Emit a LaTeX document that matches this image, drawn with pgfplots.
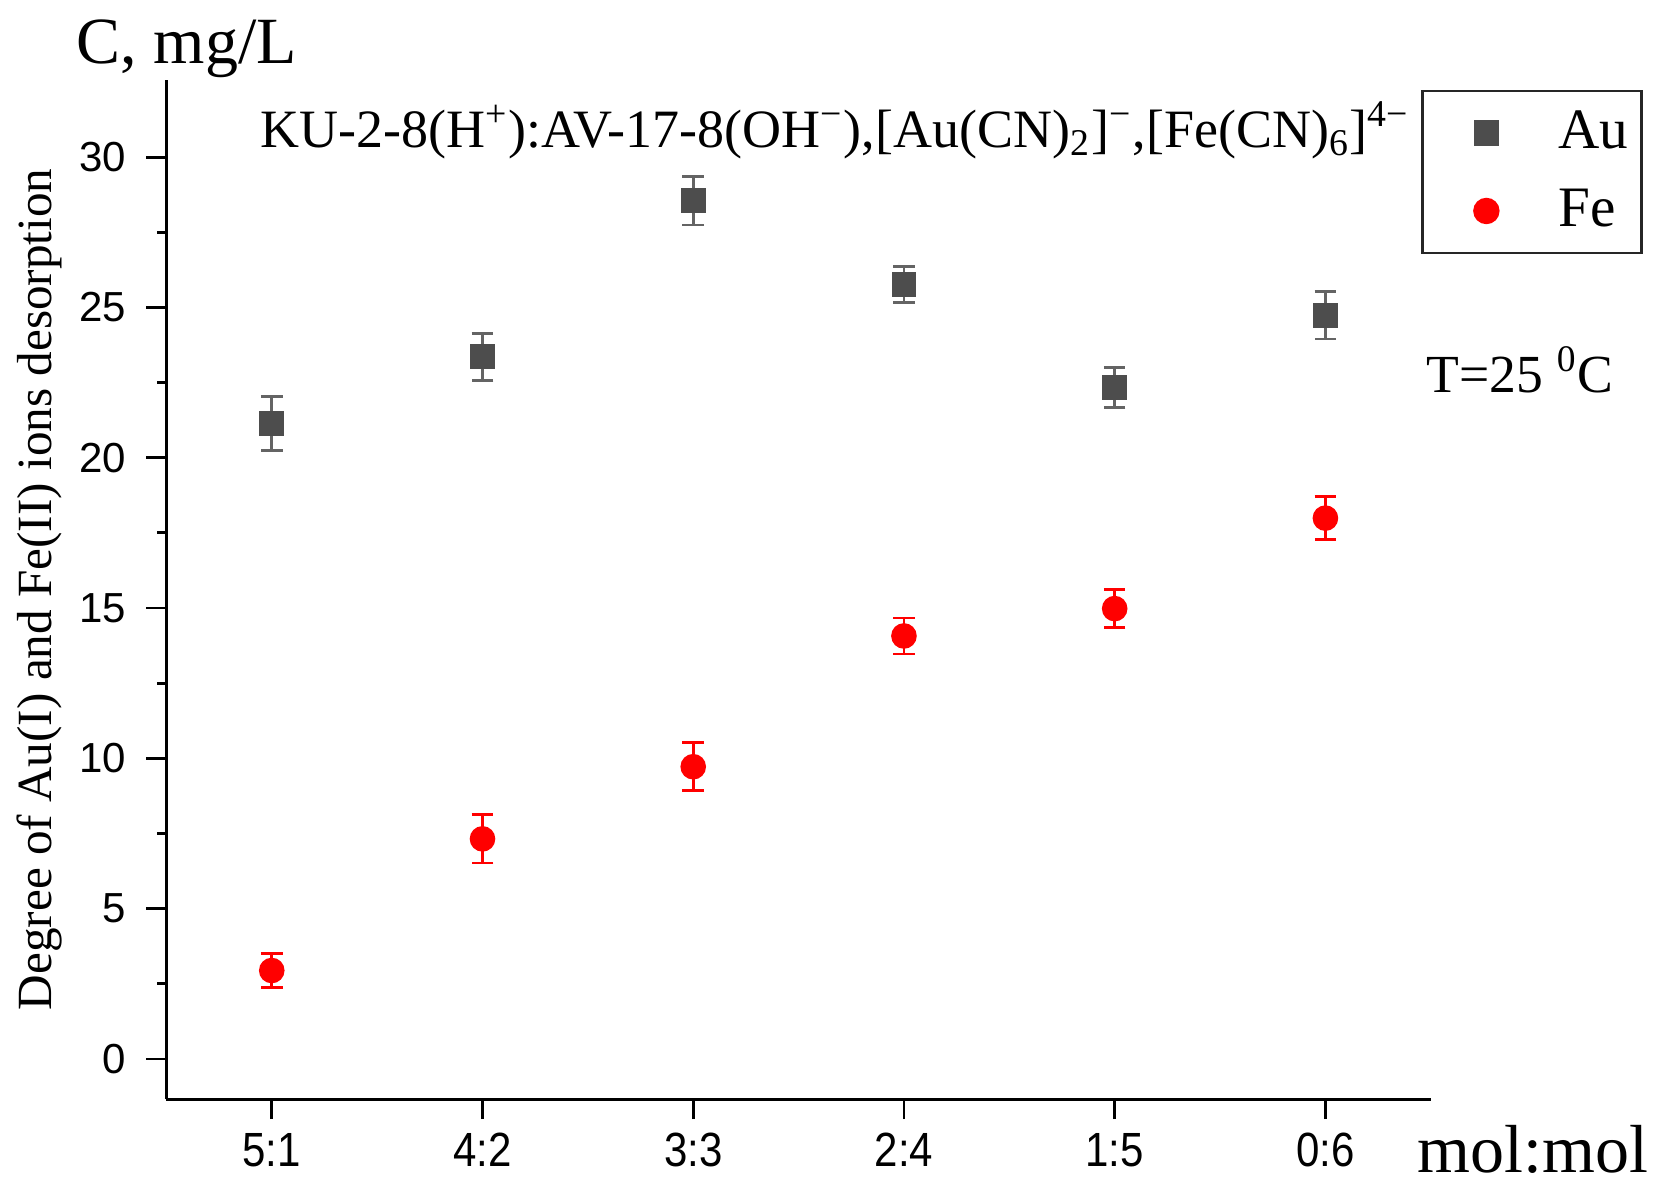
\documentclass[border=0pt]{standalone}
\usepackage{fontspec}
\setmainfont{Liberation Serif}
\newfontfamily\sansf{Liberation Sans}
\usepackage{graphicx}
\usepackage{pgfplots}
\pgfplotsset{compat=1.18}
\definecolor{augray}{RGB}{77,77,77}
\definecolor{auerr}{RGB}{100,100,100}
\definecolor{fered}{RGB}{255,0,0}

\begin{document}
\begin{tikzpicture}
\useasboundingbox (-41.6pt,-21.7pt) rectangle (373.9pt,274.8pt);
\begin{axis}[
  scale only axis,
  width=316.1pt, height=254.9pt,
  xmin=-0.5, xmax=5.5,
  ymin=-1.34, ymax=32.58,
  axis x line*=bottom, axis y line*=left,
  axis line style={line width=0.75pt},
  xtick={0,1,2,3,4,5},
  xticklabels={\scalebox{0.875}[1]{5:1},\scalebox{0.875}[1]{4:2},\scalebox{0.875}[1]{3:3},\scalebox{0.875}[1]{2:4},\scalebox{0.875}[1]{1:5},\scalebox{0.875}[1]{0:6}},
  ytick={0,5,10,15,20,25,30},
  minor y tick num=1,
  tick align=outside,
  major tick length=5pt, minor tick length=2.3pt,
  tick style={line width=0.7pt, black},
  /pgf/number format/assume math mode=true,
  x tick label style={font=\fontsize{12}{14}\sansf},
  y tick label style={font=\fontsize{10.5}{12}\sansf, xshift=-1.6pt},
  ylabel={Degree of Au(I) and Fe(II) ions desorption},
  every axis y label/.style={at={(axis description cs:-0.1,0.5)}, rotate=90, anchor=center, inner sep=0pt, font=\fontsize{12.3}{14}\selectfont},
  legend style={at={(axis description cs:0.9924,0.9898)}, anchor=north west,
    draw=black!85, line width=0.6pt, inner xsep=0pt, inner ysep=0.7pt,
    font=\fontsize{14.3}{16}\selectfont, nodes={inner sep=0pt}},
  legend cell align=left,
  legend image code/.code={\path[draw=none,fill=none] (-4pt,-9.75pt) rectangle (30pt,9.75pt);
    \draw[mark repeat=2,mark phase=2,#1] plot coordinates {(0pt,0pt) (12pt,0pt) (24pt,0pt)};},
]
\addplot[only marks, mark=square*, mark size=2.875pt, color=augray,
  error bars/.cd, y dir=both, y explicit,
  error bar style={line width=0.7pt, color=auerr},
  error mark options={rotate=90, line width=0.7pt, mark size=2.7pt, color=auerr}]
  coordinates {
  (0,21.13) +- (0,0.90)
  (1,23.36) +- (0,0.78)
  (2,28.55) +- (0,0.81)
  (3,25.76) +- (0,0.60)
  (4,22.33) +- (0,0.67)
  (5,24.74) +- (0,0.79)
  };
\addplot[only marks, mark=*, mark size=3pt, color=fered,
  error bars/.cd, y dir=both, y explicit,
  error bar style={line width=0.7pt, color=fered},
  error mark options={rotate=90, line width=0.7pt, mark size=2.7pt, color=fered}]
  coordinates {
  (0,2.94) +- (0,0.57)
  (1,7.32) +- (0,0.80)
  (2,9.72) +- (0,0.80)
  (3,14.07) +- (0,0.60)
  (4,14.98) +- (0,0.63)
  (5,17.99) +- (0,0.72)
  };
\legend{Au\hspace*{3.3pt}, Fe}
\end{axis}
\node[anchor=base west, inner sep=0pt, font=\fontsize{16.5}{19}\selectfont] at (-22.6pt,259pt) {C, mg/L};
\node[anchor=base west, inner sep=0pt, font=\fontsize{13.5}{16}\selectfont] at (23.3pt,238pt) {KU-2-8(H\textsuperscript{+}):AV-17-8(OH\textsuperscript{−}),[Au(CN)\textsubscript{2}]\textsuperscript{−},[Fe(CN)\textsubscript{6}]\textsuperscript{4−}};
\node[anchor=base west, inner sep=0pt, font=\fontsize{13.4}{16}\selectfont] at (314.9pt,176.6pt) {T=25 \textsuperscript{0}C};
\node[anchor=base west, inner sep=0pt, font=\fontsize{17}{20}\selectfont] at (312.6pt,-18.45pt) {mol:mol};
\end{tikzpicture}
\end{document}
